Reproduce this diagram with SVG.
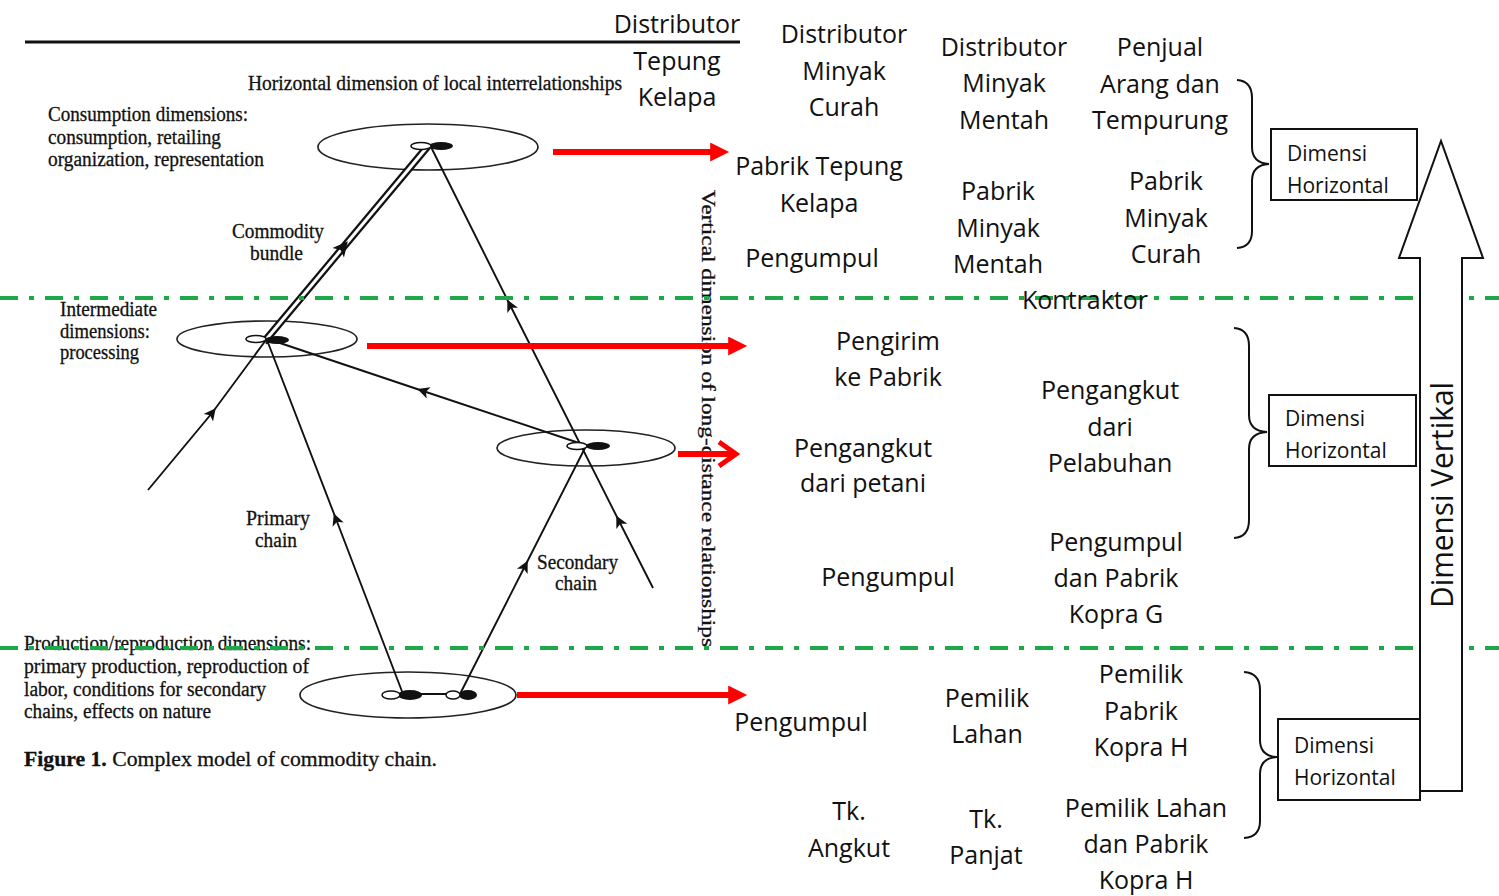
<svg xmlns="http://www.w3.org/2000/svg" width="1499" height="896" viewBox="0 0 1499 896">
  <defs>
    <style>
      .serif{font-family:"Liberation Serif","Times New Roman",serif;font-size:20.5px;fill:#111;stroke:#111;stroke-width:0.3}
      .sans{font-family:"Open Sans","Liberation Sans",sans-serif;font-size:25px;fill:#111;text-anchor:middle}
      .boxtxt{font-family:"Open Sans","Liberation Sans",sans-serif;font-size:21px;fill:#111}
      .ln{stroke:#111;stroke-width:1.9;fill:none}
      .ell{stroke:#222;stroke-width:1.7;fill:none}
      .red{stroke:#f00;stroke-width:6;fill:none}
      .green{stroke:#1fa84a;stroke-width:4;fill:none;stroke-dasharray:18 11 5 11}
      .box{fill:#fff;stroke:#111;stroke-width:2}
      .brace{fill:none;stroke:#111;stroke-width:2}
    </style>
    <marker id="ah" viewBox="0 0 10 10" refX="5" refY="5" markerUnits="userSpaceOnUse" markerWidth="15" markerHeight="12" orient="auto">
      <path d="M0,0 L10,5 L0,10 L2.5,5 z" fill="#111"/>
    </marker>
    <marker id="ahBig" viewBox="0 0 10 10" refX="5" refY="5" markerUnits="userSpaceOnUse" markerWidth="18" markerHeight="15" orient="auto">
      <path d="M0,0 L10,5 L0,10 L2.5,5 z" fill="#111"/>
    </marker>
    <marker id="redHead" viewBox="0 0 10 10" refX="2" refY="5" markerUnits="userSpaceOnUse" markerWidth="20" markerHeight="19" orient="auto">
      <path d="M0,0 L10,5 L0,10 z" fill="#f00"/>
    </marker>
  </defs>

  <rect width="1499" height="896" fill="#fff"/>

  <!-- commodity chain model (left) -->
  <g id="chain-model">
    <line x1="25" y1="42" x2="740" y2="42" stroke="#111" stroke-width="3"/>

    <ellipse class="ell" cx="428" cy="147" rx="110" ry="23"/>
    <ellipse class="ell" cx="267" cy="339" rx="90" ry="18"/>
    <ellipse class="ell" cx="586" cy="448" rx="89" ry="18"/>
    <ellipse class="ell" cx="408" cy="695" rx="108" ry="23"/>

    <!-- commodity bundle (double line) -->
    <line x1="264" y1="342" x2="428" y2="146" stroke="#111" stroke-width="7.5"/>
    <line x1="264" y1="342" x2="428" y2="146" stroke="#fff" stroke-width="3"/>
    <path d="M300,299 L343,247 L380,203" fill="none" stroke="none" marker-mid="url(#ahBig)"/>

    <!-- flow lines -->
    <path class="ln" d="M148,490 L212,413 L266,340" marker-mid="url(#ah)"/>
    <path class="ln" d="M653,588 L619,521 L510,305 L431,147" marker-mid="url(#ah)"/>
    <path class="ln" d="M588,446 L423,391 L268,339" marker-mid="url(#ah)"/>
    <path class="ln" d="M403,694 L336,519 L267,340" marker-mid="url(#ah)"/>
    <path class="ln" d="M460,694 L525,566 L586,446" marker-mid="url(#ah)"/>
    <line class="ln" x1="403" y1="694" x2="462" y2="694"/>

    <!-- hubs -->
    <ellipse cx="441" cy="146" rx="12" ry="4" fill="#111"/>
    <ellipse cx="421" cy="146" rx="10" ry="3.5" fill="#fff" stroke="#111" stroke-width="1.5"/>
    <ellipse cx="277" cy="340" rx="12" ry="4" fill="#111"/>
    <ellipse cx="256" cy="339" rx="10" ry="3.5" fill="#fff" stroke="#111" stroke-width="1.5"/>
    <ellipse cx="598" cy="446" rx="12" ry="4" fill="#111"/>
    <ellipse cx="577" cy="446" rx="10" ry="3.5" fill="#fff" stroke="#111" stroke-width="1.5"/>
    <ellipse cx="410" cy="695" rx="12" ry="5" fill="#111"/>
    <ellipse cx="391" cy="695" rx="9" ry="4" fill="#fff" stroke="#111" stroke-width="1.5"/>
    <ellipse cx="468" cy="695" rx="9" ry="5" fill="#111"/>
    <ellipse cx="453" cy="695" rx="7" ry="4" fill="#fff" stroke="#111" stroke-width="1.5"/>

    <!-- labels -->
    <text class="serif" x="248" y="90" textLength="374" lengthAdjust="spacingAndGlyphs">Horizontal dimension of local interrelationships</text>
    <text class="serif" x="48" y="121" textLength="200" lengthAdjust="spacingAndGlyphs">Consumption dimensions:</text>
    <text class="serif" x="48" y="144" textLength="173" lengthAdjust="spacingAndGlyphs">consumption, retailing</text>
    <text class="serif" x="48" y="166" textLength="216" lengthAdjust="spacingAndGlyphs">organization, representation</text>
    <text class="serif" x="232" y="238" textLength="92" lengthAdjust="spacingAndGlyphs">Commodity</text>
    <text class="serif" x="250" y="260" textLength="53" lengthAdjust="spacingAndGlyphs">bundle</text>
    <text class="serif" x="60" y="316" textLength="97" lengthAdjust="spacingAndGlyphs">Intermediate</text>
    <text class="serif" x="60" y="338" textLength="90" lengthAdjust="spacingAndGlyphs">dimensions:</text>
    <text class="serif" x="60" y="359" textLength="79" lengthAdjust="spacingAndGlyphs">processing</text>
    <text class="serif" x="246" y="525" textLength="64" lengthAdjust="spacingAndGlyphs">Primary</text>
    <text class="serif" x="255" y="547" textLength="42" lengthAdjust="spacingAndGlyphs">chain</text>
    <text class="serif" x="537" y="569" textLength="81" lengthAdjust="spacingAndGlyphs">Secondary</text>
    <text class="serif" x="555" y="590" textLength="42" lengthAdjust="spacingAndGlyphs">chain</text>
    <text class="serif" x="24" y="650" textLength="287" lengthAdjust="spacingAndGlyphs">Production/reproduction dimensions:</text>
    <text class="serif" x="24" y="673" textLength="285" lengthAdjust="spacingAndGlyphs">primary production, reproduction of</text>
    <text class="serif" x="24" y="696" textLength="242" lengthAdjust="spacingAndGlyphs">labor, conditions for secondary</text>
    <text class="serif" x="24" y="718" textLength="187" lengthAdjust="spacingAndGlyphs">chains, effects on nature</text>
    <text class="serif" x="24" y="766" style="font-size:22px" textLength="413" lengthAdjust="spacingAndGlyphs"><tspan font-weight="bold">Figure 1.</tspan> Complex model of commodity chain.</text>
    <text class="serif" transform="translate(702,190) rotate(90)" style="font-size:18.5px" textLength="457" lengthAdjust="spacingAndGlyphs">Vertical dimension of long-distance relationships</text>
  </g>

  <!-- level separators -->
  <g id="separators">
    <line class="green" x1="0" y1="298" x2="1499" y2="298"/>
    <line class="green" x1="0" y1="648" x2="1499" y2="648"/>
  </g>

  <!-- connectors: red level arrows -->
  <g id="connectors">
    <line class="red" x1="553" y1="152" x2="714" y2="152" marker-end="url(#redHead)"/>
    <line class="red" x1="367" y1="346" x2="732" y2="346" marker-end="url(#redHead)"/>
    <line class="red" x1="678" y1="454" x2="734" y2="454"/>
    <polyline points="719,442 736,454 719,466" fill="none" stroke="#f00" stroke-width="5"/>
    <line class="red" x1="517" y1="695" x2="732" y2="695" marker-end="url(#redHead)"/>
  </g>

  <!-- actors, upper level -->
  <g id="col-tepung">
    <text class="sans" x="677" y="33">Distributor</text>
    <text class="sans" x="677" y="70">Tepung</text>
    <text class="sans" x="677" y="106">Kelapa</text>
  </g>
  <g id="col-minyak-curah">
    <text class="sans" x="844" y="43">Distributor</text>
    <text class="sans" x="844" y="80">Minyak</text>
    <text class="sans" x="844" y="116">Curah</text>
  </g>
  <g id="col-minyak-mentah">
    <text class="sans" x="1004" y="56">Distributor</text>
    <text class="sans" x="1004" y="92">Minyak</text>
    <text class="sans" x="1004" y="129">Mentah</text>
  </g>
  <g id="col-arang">
    <text class="sans" x="1160" y="56">Penjual</text>
    <text class="sans" x="1160" y="93">Arang dan</text>
    <text class="sans" x="1160" y="129">Tempurung</text>
  </g>
  <g id="pabrik-tepung">
    <text class="sans" x="819" y="175">Pabrik Tepung</text>
    <text class="sans" x="819" y="212">Kelapa</text>
  </g>
  <g id="pabrik-minyak-mentah">
    <text class="sans" x="998" y="200">Pabrik</text>
    <text class="sans" x="998" y="237">Minyak</text>
    <text class="sans" x="998" y="273">Mentah</text>
  </g>
  <g id="pabrik-minyak-curah">
    <text class="sans" x="1166" y="190">Pabrik</text>
    <text class="sans" x="1166" y="227">Minyak</text>
    <text class="sans" x="1166" y="263">Curah</text>
  </g>
  <g id="pengumpul-atas">
    <text class="sans" x="812" y="267">Pengumpul</text>
  </g>
  <g id="kontraktor">
    <text class="sans" x="1085" y="309">Kontraktor</text>
  </g>

  <!-- actors, middle level -->
  <g id="pengirim">
    <text class="sans" x="888" y="350">Pengirim</text>
    <text class="sans" x="888" y="386">ke Pabrik</text>
  </g>
  <g id="pengangkut-petani">
    <text class="sans" x="863" y="457">Pengangkut</text>
    <text class="sans" x="863" y="492">dari petani</text>
  </g>
  <g id="pengangkut-pelabuhan">
    <text class="sans" x="1110" y="399">Pengangkut</text>
    <text class="sans" x="1110" y="436">dari</text>
    <text class="sans" x="1110" y="472">Pelabuhan</text>
  </g>
  <g id="pengumpul-tengah">
    <text class="sans" x="888" y="586">Pengumpul</text>
  </g>
  <g id="pengumpul-kopra-g">
    <text class="sans" x="1116" y="551">Pengumpul</text>
    <text class="sans" x="1116" y="587">dan Pabrik</text>
    <text class="sans" x="1116" y="623">Kopra G</text>
  </g>

  <!-- actors, production level -->
  <g id="pengumpul-bawah">
    <text class="sans" x="801" y="731">Pengumpul</text>
  </g>
  <g id="pemilik-lahan">
    <text class="sans" x="987" y="707">Pemilik</text>
    <text class="sans" x="987" y="743">Lahan</text>
  </g>
  <g id="pemilik-kopra-h">
    <text class="sans" x="1141" y="683">Pemilik</text>
    <text class="sans" x="1141" y="720">Pabrik</text>
    <text class="sans" x="1141" y="756">Kopra H</text>
  </g>
  <g id="tk-angkut">
    <text class="sans" x="849" y="820">Tk.</text>
    <text class="sans" x="849" y="857">Angkut</text>
  </g>
  <g id="tk-panjat">
    <text class="sans" x="986" y="828">Tk.</text>
    <text class="sans" x="986" y="864">Panjat</text>
  </g>
  <g id="pemilik-lahan-kopra-h">
    <text class="sans" x="1146" y="817">Pemilik Lahan</text>
    <text class="sans" x="1146" y="853">dan Pabrik</text>
    <text class="sans" x="1146" y="889">Kopra H</text>
  </g>

  <!-- braces -->
  <g id="braces">
    <path class="brace" d="M1237,80 Q1252,81 1252,98 L1252,147 Q1252,163 1269,164 Q1252,165 1252,181 L1252,231 Q1252,247 1237,248"/>
    <path class="brace" d="M1234,328 Q1249,329 1249,346 L1249,415 Q1249,431 1267,432 Q1249,433 1249,449 L1249,520 Q1249,537 1234,538"/>
    <path class="brace" d="M1244,672 Q1260,673 1260,690 L1260,740 Q1260,756 1277,757 Q1260,758 1260,774 L1260,821 Q1260,837 1244,838"/>
  </g>

  <!-- vertical dimension arrow -->
  <g id="dimensi-vertikal">
    <path d="M1420,791 L1420,258 L1399,258 L1441,141 L1483,258 L1462,258 L1462,791 Z" fill="#fff" stroke="#111" stroke-width="2"/>
    <text transform="translate(1453,495) rotate(-90)" style="font-family:'Open Sans','Liberation Sans',sans-serif;font-size:31px;fill:#111;text-anchor:middle" textLength="226" lengthAdjust="spacingAndGlyphs">Dimensi Vertikal</text>
  </g>

  <!-- horizontal dimension boxes -->
  <g id="dimensi-horizontal-1">
    <rect class="box" x="1271" y="129" width="146" height="71"/>
    <text class="boxtxt" x="1287" y="161">Dimensi</text>
    <text class="boxtxt" x="1287" y="193">Horizontal</text>
  </g>
  <g id="dimensi-horizontal-2">
    <rect class="box" x="1269" y="395" width="147" height="71"/>
    <text class="boxtxt" x="1285" y="426">Dimensi</text>
    <text class="boxtxt" x="1285" y="458">Horizontal</text>
  </g>
  <g id="dimensi-horizontal-3">
    <rect class="box" x="1278" y="719" width="142" height="81"/>
    <text class="boxtxt" x="1294" y="753">Dimensi</text>
    <text class="boxtxt" x="1294" y="785">Horizontal</text>
  </g>
</svg>
